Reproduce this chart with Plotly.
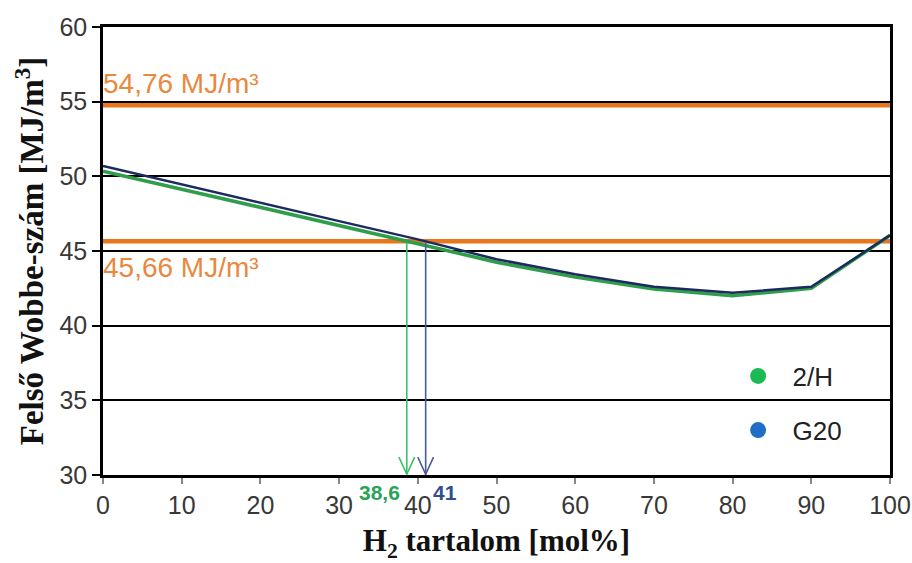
import plotly.graph_objects as go

# H2 content (mol%) and upper Wobbe index (MJ/m3) for the two reference gases
h2_content = [0, 10, 20, 30, 40, 50, 60, 70, 80, 90, 100]
wobbe_2h = [50.35, 49.15, 47.95, 46.75, 45.49, 44.25, 43.25, 42.45, 42.0, 42.5, 46.05]
wobbe_g20 = [50.7, 49.45, 48.2, 47.0, 45.78, 44.45, 43.45, 42.6, 42.2, 42.6, 46.05]

# Limit values of the Wobbe index band
limit_upper = 54.76
limit_lower = 45.66
limit_upper_label = "54,76 MJ/m³"
limit_lower_label = "45,66 MJ/m³"

# H2 content where each curve crosses the lower limit
cross_2h = 38.6
cross_g20 = 41
cross_2h_label = "38,6"
cross_g20_label = "41"

x_ticks = [0, 10, 20, 30, 40, 50, 60, 70, 80, 90, 100]
y_ticks = [30, 35, 40, 45, 50, 55, 60]

GREEN = "#2e9e4a"
GREEN_LEG = "#1db954"
NAVY = "#1c2a5e"
BLUE_LEG = "#1f6fc9"
ORANGE = "#e8761f"
ORANGE_TXT = "#e8893e"
ARROW_GREEN = "#3cc06a"
ARROW_BLUE = "#4a5c92"

SANS = "Liberation Sans, Arial"
SERIF = "Liberation Serif, Times New Roman"

fig = go.Figure()

# Limit lines
for lim in (limit_upper, limit_lower):
    fig.add_trace(go.Scatter(
        x=[0, 100], y=[lim, lim], mode="lines",
        line=dict(color=ORANGE, width=4.5), showlegend=False, hoverinfo="skip"))

# Curves
fig.add_trace(go.Scatter(
    x=h2_content, y=wobbe_2h, mode="lines",
    line=dict(color=GREEN, width=3.5), showlegend=False))
fig.add_trace(go.Scatter(
    x=h2_content, y=wobbe_g20, mode="lines",
    line=dict(color=NAVY, width=2.5), showlegend=False))

# Legend entries (marker symbols only)
fig.add_trace(go.Scatter(
    x=[None], y=[None], mode="markers", name="\u00a0\u00a02/H",
    marker=dict(color=GREEN_LEG, size=21), legend="legend"))
fig.add_trace(go.Scatter(
    x=[None], y=[None], mode="markers", name="\u00a0\u00a0G20",
    marker=dict(color=BLUE_LEG, size=21), legend="legend2"))

# Crossing arrows down to the x axis
for xc, col in ((cross_2h, ARROW_GREEN), (cross_g20, ARROW_BLUE)):
    fig.add_annotation(
        x=xc, y=30, ax=xc, ay=limit_lower, xref="x", yref="y",
        axref="x", ayref="y", showarrow=True, arrowhead=0,
        arrowwidth=1.6, arrowcolor=col, text="")
    # open V head
    fig.add_trace(go.Scatter(
        x=[xc - 1.0, xc, xc + 1.0], y=[31.2, 30.05, 31.2], mode="lines",
        line=dict(color=col, width=1.6), showlegend=False, hoverinfo="skip"))

# Limit labels
fig.add_annotation(x=0, y=limit_upper, xref="x", yref="y", text=limit_upper_label,
                   showarrow=False, xanchor="left", yanchor="bottom", yshift=4, xshift=-2,
                   font=dict(family=SANS, size=28, color=ORANGE_TXT))
fig.add_annotation(x=0, y=45, xref="x", yref="y", text=limit_lower_label,
                   showarrow=False, xanchor="left", yanchor="top", yshift=1, xshift=-2,
                   font=dict(family=SANS, size=28, color=ORANGE_TXT))

# Crossing value labels
fig.add_annotation(x=cross_2h, y=30, xref="x", yref="y", text="<b>" + cross_2h_label + "</b>",
                   showarrow=False, xanchor="right", yanchor="top", yshift=-4, xshift=-5,
                   font=dict(family=SANS, size=21, color="#2aa35a"))
fig.add_annotation(x=cross_g20, y=30, xref="x", yref="y", text="<b>" + cross_g20_label + "</b>",
                   showarrow=False, xanchor="left", yanchor="top", yshift=-4, xshift=5,
                   font=dict(family=SANS, size=21, color="#2f4f8f"))

tick_font = dict(family=SANS, size=25, color="#383838")

fig.update_layout(
    width=912, height=563,
    margin=dict(l=103, r=22, t=27, b=88, autoexpand=False),
    paper_bgcolor="white", plot_bgcolor="white",
    xaxis=dict(
        range=[0, 100], tickvals=x_ticks, ticks="outside", ticklen=6,
        tickcolor="#888888", tickwidth=1.5, automargin=False,
        showline=True, linecolor="black", linewidth=2.5, mirror=True,
        showgrid=False, zeroline=False, tickfont=tick_font,
        title=dict(text="<b>H<sub>2</sub> tartalom [mol%]</b>",
                   font=dict(family=SERIF, size=31, color="#111111"), standoff=18),
    ),
    yaxis=dict(
        range=[30, 60], tickvals=y_ticks, ticks="outside", ticklen=8,
        tickcolor="black", tickwidth=2, automargin=False,
        showline=True, linecolor="black", linewidth=2.5, mirror=True,
        showgrid=True, gridcolor="black", gridwidth=2, zeroline=False,
        tickfont=tick_font,
        title=dict(text="<b>Felső Wobbe-szám [MJ/m<sup>3</sup>]</b>",
                   font=dict(family=SERIF, size=33, color="#111111"), standoff=6),
    ),
    legend=dict(x=0.807, y=0.221, xanchor="left", yanchor="middle",
                bgcolor="rgba(0,0,0,0)", font=dict(family=SANS, size=26, color="#222222")),
    legend2=dict(x=0.807, y=0.10, xanchor="left", yanchor="middle",
                 bgcolor="rgba(0,0,0,0)", font=dict(family=SANS, size=26, color="#222222")),
)

fig.write_html("out.html")
